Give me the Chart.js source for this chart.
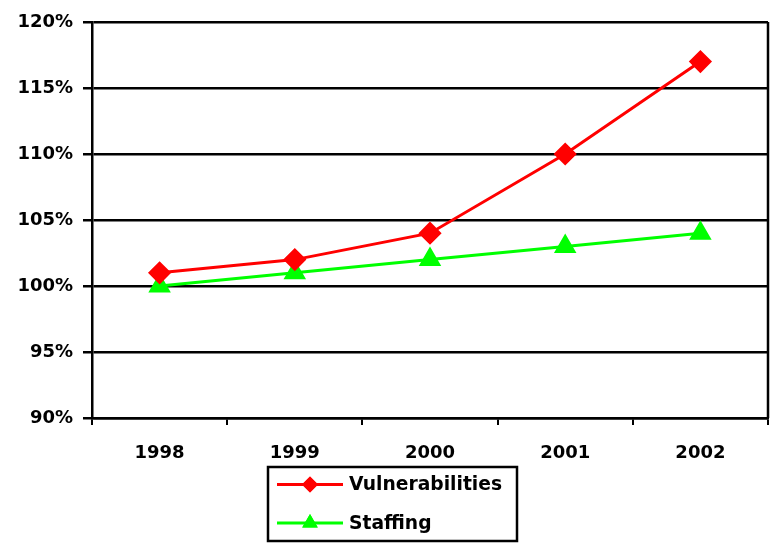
<!DOCTYPE html>
<html><head><meta charset="utf-8">
<style>html,body{margin:0;padding:0;background:#fff;}#wrap{width:773px;height:546px;}</style>
<script src="https://cdn.jsdelivr.net/npm/chart.js@4"></script>
</head><body><div id="wrap"><canvas id="c" width="773" height="546"></canvas></div>
<script>
const categories = ['1998','1999','2000','2001','2002'];
const vulnerabilities = [101, 102, 104, 110, 117];
const staffing = [100, 101, 102, 103, 104];
const seriesNames = ['Vulnerabilities','Staffing'];
const yTicks = [90, 95, 100, 105, 110, 115, 120];

const FONT = '"DejaVu Sans", "Liberation Sans", Arial, sans-serif';

const frame = {
  id: 'frame',
  afterDatasetsDraw(chart) {
    const {ctx, chartArea: a} = chart;
    ctx.save();
    ctx.strokeStyle = '#000'; ctx.lineWidth = 2.5;
    ctx.beginPath();
    ctx.moveTo(a.right, a.top); ctx.lineTo(a.right, a.bottom);
    ctx.stroke();
    ctx.restore();
  },
  afterDraw(chart) {
    const {ctx} = chart;
    const bx = 268, by = 467, bw = 249, bh = 74;
    ctx.save();
    ctx.strokeStyle = '#000'; ctx.lineWidth = 2.5;
    ctx.strokeRect(bx, by, bw, bh);
    chart.data.datasets.forEach((ds, i) => {
      const cy = by + 17.5 + i * 38.5;
      ctx.strokeStyle = ds.borderColor; ctx.lineWidth = 3;
      ctx.beginPath(); ctx.moveTo(bx + 9, cy); ctx.lineTo(bx + 75, cy); ctx.stroke();
      ctx.fillStyle = ds.pointBackgroundColor;
      const r = ds.pointStyle === 'triangle' ? 9 : 8;
      Chart.helpers.drawPoint(ctx, {pointStyle: ds.pointStyle, radius: r, borderWidth: 0}, bx + 42, cy);
      ctx.fill();
      ctx.fillStyle = '#000';
      ctx.font = 'bold 18.7px ' + FONT;
      ctx.textBaseline = 'middle'; ctx.textAlign = 'left';
      ctx.fillText(ds.label, bx + 81, cy + 1);
    });
    ctx.restore();
  }
};

new Chart(document.getElementById('c'), {
  type: 'line',
  data: {
    labels: categories,
    datasets: [
      {label: seriesNames[0], data: vulnerabilities, borderColor: '#ff0000', backgroundColor: '#ff0000',
       pointBackgroundColor: '#ff0000', pointBorderColor: '#ff0000', pointStyle: 'rectRot', pointRadius: 9.5,
       borderWidth: 3, tension: 0},
      {label: seriesNames[1], data: staffing, borderColor: '#00ff00', backgroundColor: '#00ff00',
       pointBackgroundColor: '#00ff00', pointBorderColor: '#00ff00', pointStyle: 'triangle', pointRadius: 10,
       borderWidth: 3, tension: 0}
    ]
  },
  options: {
    responsive: false, animation: false,
    layout: {autoPadding: false, padding: {top: 22, right: 5, left: 0, bottom: 0}},
    plugins: {legend: {display: false}, tooltip: {enabled: false}},
    scales: {
      x: {
        offset: true,
        grid: {offset: true, drawOnChartArea: false, color: '#000', lineWidth: 2, tickLength: 7, tickColor: '#000'},
        border: {color: '#000', width: 2.5},
        ticks: {color: '#000', font: {family: FONT, size: 18, weight: 'bold'}, padding: 18},
        afterFit(s) { s.height = 128; s.paddingLeft = 0; s.paddingRight = 0; }
      },
      y: {
        min: 90, max: 120,
        afterBuildTicks(s) { s.ticks = yTicks.map(v => ({value: v})); },
        grid: {color: '#000', lineWidth: 2.5, tickLength: 9, tickColor: '#000'},
        border: {color: '#000', width: 2.5},
        ticks: {color: '#000', font: {family: FONT, size: 18, weight: 'bold'}, padding: 10,
                callback: v => v + '%'},
        afterFit(s) { s.width = 92; s.paddingTop = 0; s.paddingBottom = 0; }
      }
    }
  },
  plugins: [frame]
});
</script></body></html>
